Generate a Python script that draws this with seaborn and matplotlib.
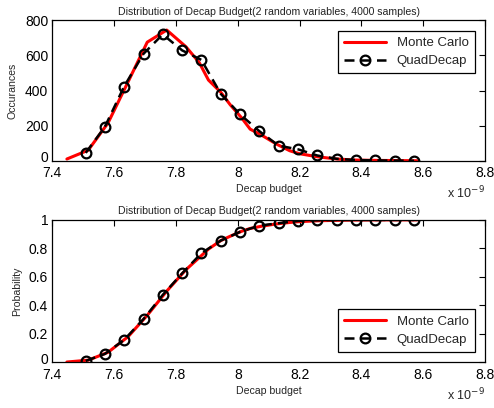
import numpy as np
import pandas as pd
import matplotlib
matplotlib.use('Agg')
import matplotlib.pyplot as plt
import matplotlib.transforms as mtransforms
import seaborn as sns

sns.set_style('white')
plt.rcParams['font.family'] = ['Liberation Sans', 'DejaVu Sans']

# decap budget in units of 1e-9
mc_x = [7.447, 7.516, 7.580, 7.645, 7.707, 7.770, 7.832, 7.875, 7.905, 7.945,
        7.975, 8.012, 8.040, 8.075, 8.125, 8.168, 8.200, 8.260, 8.320, 8.380,
        8.450, 8.520, 8.580]
mc_counts = [10, 60, 215, 450, 676, 745, 650, 560, 460, 390,
             320, 245, 180, 148, 95, 57, 40, 22, 10, 4,
             2, 1, 0]
mc_prob = [0.002, 0.015, 0.070, 0.180, 0.330, 0.500, 0.650, 0.735, 0.795, 0.855,
           0.885, 0.920, 0.940, 0.955, 0.972, 0.982, 0.988, 0.994, 0.997, 0.999,
           1.0, 1.0, 1.0]

qd_x = [7.508, 7.570, 7.632, 7.695, 7.757, 7.820, 7.882, 7.945, 8.007, 8.070,
        8.132, 8.195, 8.257, 8.320, 8.382, 8.445, 8.507, 8.570]
qd_counts = [45, 194, 423, 610, 720, 629, 575, 381, 265, 168,
             86, 65, 30, 11, 4, 2, 1, 0]
qd_prob = [0.010, 0.059, 0.157, 0.304, 0.473, 0.625, 0.766, 0.855, 0.916, 0.960,
           0.977, 0.993, 0.998, 1.0, 1.0, 1.0, 1.0, 1.0]

title = 'Distribution of Decap Budget(2 random variables, 4000 samples)'

fig = plt.figure(figsize=(4.94, 4.08), dpi=100)
ax1 = fig.add_axes([0.106, 0.606, 0.876, 0.344])
ax2 = fig.add_axes([0.106, 0.112, 0.876, 0.349])


def draw(ax, mc_y, qd_y, ylabel, yticks, yticklabels, legend_loc):
    sns.lineplot(x=mc_x, y=mc_y, ax=ax, color='#ff0000', linewidth=2.2,
                 label='Monte Carlo')
    sns.lineplot(x=qd_x, y=qd_y, ax=ax, color='black', linewidth=1.8,
                 linestyle=(0, (4, 2.5)), marker='o', markersize=7,
                 markerfacecolor='none', markeredgecolor='black',
                 markeredgewidth=1.6, label='QuadDecap')
    ax.set_xlim(7.4, 8.8)
    ax.set_ylim(yticks[0], yticks[-1])
    ax.set_xticks([7.4, 7.6, 7.8, 8.0, 8.2, 8.4, 8.6, 8.8])
    ax.set_xticklabels(['7.4', '7.6', '7.8', '8', '8.2', '8.4', '8.6', '8.8'])
    ax.set_yticks(yticks)
    ax.set_yticklabels(yticklabels)
    ax.tick_params(axis='both', direction='in', length=4, width=0.8,
                   labelsize=10, top=True, right=True, colors='black')
    ax.tick_params(axis='x', pad=4)
    ax.tick_params(axis='y', pad=3)
    # nudge the bottom "0" up a little so it clears the "7.4" below it
    lab0 = ax.get_yticklabels()[0]
    lab0.set_transform(lab0.get_transform() +
                       mtransforms.ScaledTranslation(0, 3 / 72, fig.dpi_scale_trans))
    for s in ax.spines.values():
        s.set_visible(True)
        s.set_color('black')
        s.set_linewidth(0.9)
    ax.set_title(title, fontsize=7.6, pad=4, color='#222222')
    ax.set_xlabel('Decap budget', fontsize=7.6, labelpad=3)
    ax.set_ylabel(ylabel, fontsize=7.6, labelpad=5)
    ax.text(1.0, -0.17, r'x 10$^{-9}$', transform=ax.transAxes, ha='right',
            va='top', fontsize=9)
    leg = ax.legend(loc=legend_loc, fontsize=9.5, frameon=True, fancybox=False,
                    edgecolor='black', framealpha=1, handlelength=3.2,
                    borderpad=0.45, labelspacing=0.45, borderaxespad=0.8)
    leg.get_frame().set_linewidth(0.9)


draw(ax1, mc_counts, qd_counts, 'Occurances', [0, 200, 400, 600, 800],
     ['0', '200', '400', '600', '800'], 'upper right')
draw(ax2, mc_prob, qd_prob, 'Probability', [0, 0.2, 0.4, 0.6, 0.8, 1.0],
     ['0', '0.2', '0.4', '0.6', '0.8', '1'], 'lower right')

fig.savefig('out.png', dpi=100)
